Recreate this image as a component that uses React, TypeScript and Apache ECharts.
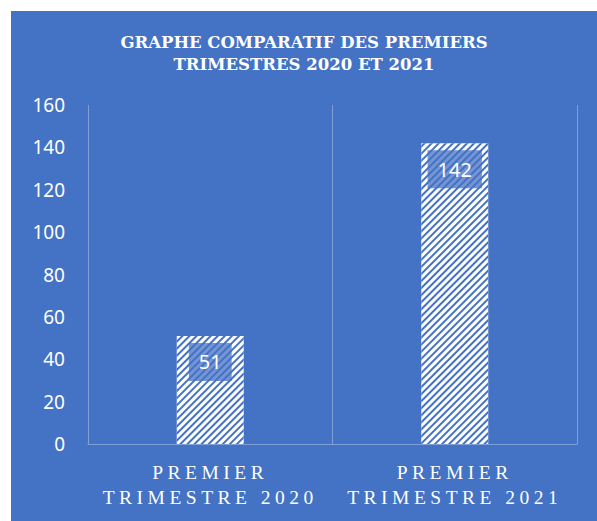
import React, { useEffect, useRef } from "react";
import * as echarts from "echarts";

const titleLines = ["GRAPHE COMPARATIF DES PREMIERS", "TRIMESTRES 2020 ET 2021"];
const categories = ["PREMIER\nTRIMESTRE 2020", "PREMIER\nTRIMESTRE 2021"];
const values = [51, 142];
const yMin = 0;
const yMax = 160;
const yInterval = 20;

const BG = "#4472C4";
const GRIDLINE = "rgba(255,255,255,0.32)";

export default function App() {
  const ref = useRef<HTMLDivElement>(null);
  useEffect(() => {
    if (!ref.current) return;
    const chart = echarts.init(ref.current, null, { renderer: "svg" });
    chart.setOption({
      animation: false,
      backgroundColor: BG,
      title: {
        text: titleLines.join("\n"),
        left: "center",
        top: 20,
        padding: 0,
        textStyle: {
          color: "#ffffff",
          fontFamily: "DejaVu Serif",
          fontWeight: "bold",
          fontSize: 16.5,
          lineHeight: 22,
        },
      },
      grid: { left: 77, right: 20, top: 94, bottom: 77, containLabel: false },
      xAxis: {
        type: "category",
        data: categories,
        axisLine: { show: true, lineStyle: { color: GRIDLINE, width: 1 } },
        axisTick: { show: false },
        splitLine: { show: true, lineStyle: { color: GRIDLINE, width: 1 } },
        axisLabel: {
          color: "#ffffff",
          fontFamily: "Liberation Serif",
          fontSize: 19.5,
          lineHeight: 25,
          margin: 16,
        },
      },
      yAxis: {
        type: "value",
        min: yMin,
        max: yMax,
        interval: yInterval,
        axisLine: { show: false },
        axisTick: { show: false },
        splitLine: { show: false },
        axisLabel: {
          color: "#ffffff",
          fontFamily: "Noto Sans",
          fontSize: 19,
          margin: 23,
        },
      },
      series: [
        {
          type: "bar",
          data: values,
          barWidth: 67,
          itemStyle: {
            color: "#ffffff",
            decal: {
              symbol: "rect",
              symbolSize: 1,
              color: BG,
              dashArrayX: [1, 0],
              dashArrayY: [2, 3],
              rotation: -Math.PI / 4,
            },
          },
          label: {
            show: true,
            position: "insideTop",
            distance: 7,
            color: "#ffffff",
            fontFamily: "Noto Sans",
            fontSize: 20,
            lineHeight: 20,
            padding: [9, 10],
            backgroundColor: "rgba(68,114,196,0.75)",
          },
        },
      ],
    });
    return () => chart.dispose();
  }, []);
  return (
    <>
      <style>{`#chart-box svg text[style*="Liberation Serif"] { letter-spacing: 4.5px; }`}</style>
      <div
        id="chart-box"
        ref={ref}
        style={{ position: "absolute", left: 11, top: 11, width: 586, height: 510 }}
      />
    </>
  );
}
